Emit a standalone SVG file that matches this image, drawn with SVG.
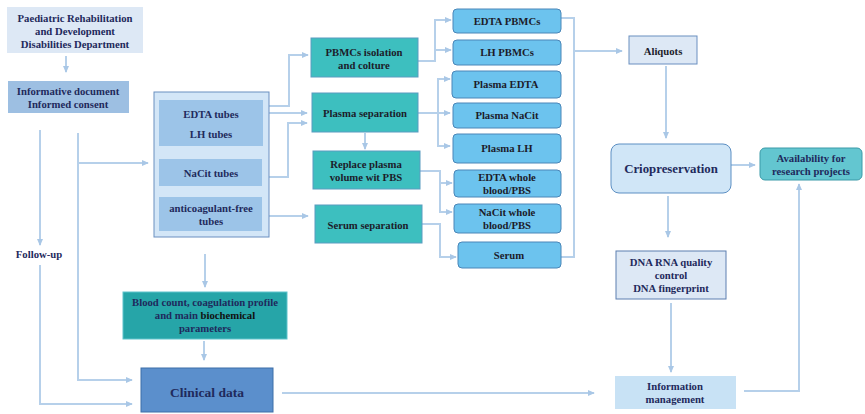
<svg xmlns="http://www.w3.org/2000/svg" width="865" height="414" viewBox="0 0 865 414">
<defs>
<marker id="ah" viewBox="0 0 8 8" refX="7" refY="4" markerWidth="7" markerHeight="7" markerUnits="userSpaceOnUse" orient="auto">
<path d="M0,0.5 L8,4 L0,7.5 Z" fill="#a9c7e6"/>
</marker>
<style>
text{font-family:"Liberation Serif","Times New Roman",serif;font-weight:bold;font-size:10.7px;text-anchor:middle;fill:#1f2a5c}
.dk{fill:#1c1c2a}
.ln{fill:none;stroke:#b6d0ea;stroke-width:2}
.ar{marker-end:url(#ah)}
.pale{fill:#dde8f5}
.teal{fill:#3dbfbf;stroke:#5a9cc0;stroke-width:1}
.blue{fill:#6cc3ee;stroke:#4a86b8;stroke-width:1}
</style>
</defs>
<rect width="865" height="414" fill="#ffffff"/>

<g id="connectors">
<path class="ln ar" d="M66,56 V72"/>
<path class="ln ar" d="M40,130 V245"/>
<path class="ln ar" d="M40,265 V404 H132"/>
<path class="ln ar" d="M78,133 V380 H132"/>
<path class="ln ar" d="M78,163 H148"/>
<path class="ln ar" d="M263,106 H289 V55 H308"/>
<path class="ln ar" d="M263,113 H307"/>
<path class="ln ar" d="M262,177 H288 V123 H307"/>
<path class="ln ar" d="M262,216 H308"/>
<path class="ln ar" d="M365,133 V149"/>
<path class="ln ar" d="M418,61 H435 V20 H451"/>
<path class="ln ar" d="M435,50 H451"/>
<path class="ln ar" d="M418,113 H450"/>
<path class="ln ar" d="M438,113 V79 H450"/>
<path class="ln ar" d="M438,113 V146 H450"/>
<path class="ln ar" d="M420,171 H440 V183 H452"/>
<path class="ln ar" d="M440,183 V212 H452"/>
<path class="ln ar" d="M422,224 H440 V257 H456"/>
<path class="ln" d="M561,18 H574 V257 H561"/>
<path class="ln ar" d="M574,51 H622"/>
<path class="ln ar" d="M666,66 V138"/>
<path class="ln ar" d="M731,165 H755"/>
<path class="ln ar" d="M668,196 V237"/>
<path class="ln ar" d="M671,303 V372"/>
<path class="ln ar" d="M744,391 H799 V184"/>
<path class="ln ar" d="M282,393 H594"/>
<path class="ln ar" d="M205,254 V287"/>
<path class="ln ar" d="M204,341 V360"/>
</g>

<g id="paediatric">
<rect x="7" y="7" width="136" height="46" class="pale"/>
<text x="75" y="22">Paediatric Rehabilitation</text>
<text x="75" y="35">and Development</text>
<text x="75" y="48">Disabilities Department</text>
</g>

<g id="informative">
<rect x="8" y="81" width="121" height="32" fill="#9dbfe2"/>
<text x="68" y="95">Informative document</text>
<text x="68" y="108">Informed consent</text>
</g>

<g id="followup">
<text x="39" y="258">Follow-up</text>
</g>

<g id="tubes">
<rect x="154" y="92" width="115" height="145" fill="#d3e6f7" stroke="#6a8fc0" stroke-width="1"/>
<rect x="159" y="100" width="104" height="46" fill="#9cc4e8"/>
<text x="211" y="118">EDTA tubes</text>
<text x="211" y="138">LH tubes</text>
<rect x="159" y="159" width="103" height="27" fill="#9cc4e8"/>
<text x="211" y="177">NaCit tubes</text>
<rect x="159" y="197" width="103" height="34" fill="#9cc4e8"/>
<text x="211" y="212">anticoagulant-free</text>
<text x="211" y="225">tubes</text>
</g>

<g id="pbmcs">
<rect x="311" y="38" width="107" height="39" class="teal"/>
<text class="dk" x="364" y="56">PBMCs isolation</text>
<text class="dk" x="364" y="69">and colture</text>
</g>

<g id="plasmasep">
<rect x="312" y="93" width="106" height="39" class="teal"/>
<text class="dk" x="365" y="117">Plasma separation</text>
</g>

<g id="replace">
<rect x="313" y="151" width="107" height="38" class="teal"/>
<text class="dk" x="366" y="168">Replace plasma</text>
<text class="dk" x="366" y="181">volume wit PBS</text>
</g>

<g id="serumsep">
<rect x="315" y="205" width="107" height="38" class="teal"/>
<text class="dk" x="368" y="229">Serum separation</text>
</g>

<g id="edtapbmcs">
<rect x="453" y="9" width="108" height="24" rx="4" class="blue"/>
<text class="dk" x="507" y="25">EDTA PBMCs</text>
</g>
<g id="lhpbmcs">
<rect x="453" y="40" width="108" height="25" rx="4" class="blue"/>
<text class="dk" x="507" y="56">LH PBMCs</text>
</g>
<g id="plasmaedta">
<rect x="452" y="71" width="109" height="27" rx="4" class="blue"/>
<text class="dk" x="506" y="88">Plasma EDTA</text>
</g>
<g id="plasmanacit">
<rect x="453" y="103" width="108" height="25" rx="4" class="blue"/>
<text class="dk" x="507" y="119">Plasma NaCit</text>
</g>
<g id="plasmalh">
<rect x="453" y="134" width="108" height="29" rx="4" class="blue"/>
<text class="dk" x="507" y="152">Plasma LH</text>
</g>
<g id="edtawhole">
<rect x="454" y="170" width="107" height="27" rx="4" class="blue"/>
<text class="dk" x="507" y="181">EDTA whole</text>
<text class="dk" x="507" y="194">blood/PBS</text>
</g>
<g id="nacitwhole">
<rect x="454" y="204" width="107" height="29" rx="4" class="blue"/>
<text class="dk" x="507" y="216">NaCit whole</text>
<text class="dk" x="507" y="229">blood/PBS</text>
</g>
<g id="serum">
<rect x="458" y="242" width="103" height="26" rx="4" class="blue"/>
<text class="dk" x="509" y="259">Serum</text>
</g>

<g id="aliquots">
<rect x="629" y="36" width="68" height="28" class="pale" stroke="#6a8fc0" stroke-width="1"/>
<text class="dk" x="663" y="55">Aliquots</text>
</g>

<g id="crio">
<rect x="611" y="144" width="120" height="49" rx="8" fill="#d0e6f7" stroke="#5c8fc3" stroke-width="1"/>
<text x="671" y="173" style="font-size:12.8px">Criopreservation</text>
</g>

<g id="availability">
<rect x="760" y="148" width="102" height="32" rx="5" fill="#63c6d0" stroke="#3a9aa8" stroke-width="1"/>
<text x="811" y="162">Availability for</text>
<text x="811" y="175">research projects</text>
</g>

<g id="dna">
<rect x="616" y="251" width="110" height="48" class="pale" stroke="#5c7fb0" stroke-width="1"/>
<text x="671" y="266">DNA RNA quality</text>
<text x="671" y="279">control</text>
<text x="671" y="292">DNA fingerprint</text>
</g>

<g id="information">
<rect x="615" y="376" width="121" height="33" fill="#c8e2f5"/>
<text x="675" y="390">Information</text>
<text x="675" y="403">management</text>
</g>

<g id="bloodcount">
<rect x="123" y="292" width="164" height="47" fill="#26a5a8" stroke="#5fc3cc" stroke-width="1"/>
<text x="205" y="306">Blood count, coagulation profile</text>
<text x="205" y="319">and main <tspan fill="#111111">biochemical</tspan></text>
<text x="205" y="332">parameters</text>
</g>

<g id="clinical">
<rect x="141" y="368" width="132" height="44" fill="#5b8fcc" stroke="#3c6ea8" stroke-width="1"/>
<text x="207" y="397" style="font-size:13.5px">Clinical data</text>
</g>
</svg>
